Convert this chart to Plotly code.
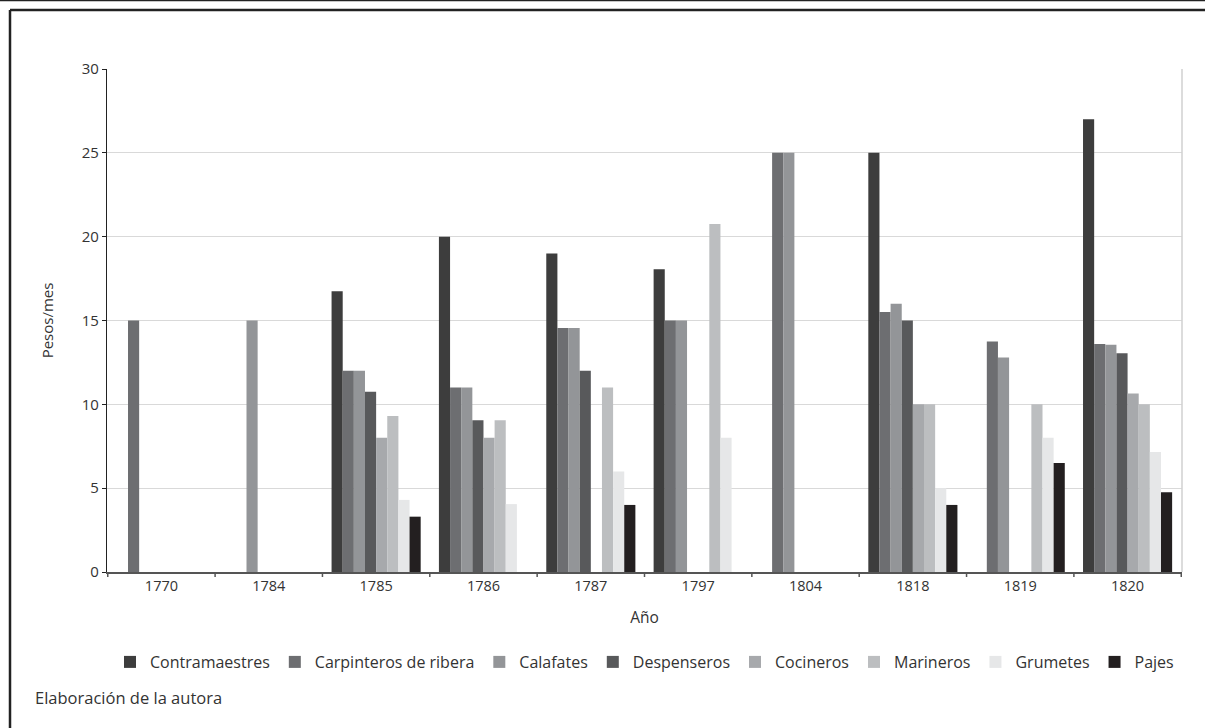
import plotly.graph_objects as go

years = ["1770", "1784", "1785", "1786", "1787", "1797", "1804", "1818", "1819", "1820"]

contramaestres = [None, None, 16.75, 20, 19, 18.05, None, 25, None, 27]
carpinteros = [15, None, 12, 11, 14.55, 15, 25, 15.5, 13.75, 13.6]
calafates = [None, 15, 12, 11, 14.55, 15, 25, 16, 12.8, 13.55]
despenseros = [None, None, 10.75, 9.05, 12, None, None, 15, None, 13.05]
cocineros = [None, None, 8, 8, None, None, None, 10, None, 10.65]
marineros = [None, None, 9.3, 9.05, 11, 20.75, None, 10, 10, 10]
grumetes = [None, None, 4.3, 4.05, 6, 8, None, 5, 8, 7.15]
pajes = [None, None, 3.3, None, 4, None, None, 4, 6.5, 4.75]

series_names = ["Contramaestres", "Carpinteros de ribera", "Calafates", "Despenseros",
                "Cocineros", "Marineros", "Grumetes", "Pajes"]
series_values = [contramaestres, carpinteros, calafates, despenseros,
                 cocineros, marineros, grumetes, pajes]
colors = ["#3d3d3d", "#6d6e71", "#939598", "#58595b",
          "#a7a9ac", "#bcbec0", "#e6e7e8", "#231f20"]

fig = go.Figure()
for name, vals, col in zip(series_names, series_values, colors):
    fig.add_trace(go.Bar(name=name, x=years, y=vals, marker=dict(color=col, line=dict(width=0))))

FONT = "Open Sans"
W, H = 1205, 728
L, R, T, B = 107, 23, 69, 156
pw, ph = W - L - R, H - T - B

def px_x(x):
    return (x - L) / pw

def px_y(y):
    return (H - B - y) / ph

fig.update_layout(
    width=W, height=H,
    barmode="group", bargap=0.17, bargroupgap=0,
    plot_bgcolor="white", paper_bgcolor="white",
    margin=dict(l=L, r=R, t=T, b=B, pad=0),
    font=dict(family=FONT, size=13, color="#333333"),
    xaxis=dict(
        type="category", showgrid=False, showline=True, linecolor="#555555", linewidth=1.5,
        ticks="outside", tickson="boundaries", ticklen=8, tickcolor="rgba(0,0,0,0)", tickwidth=1.5,
        tickfont=dict(size=14.5, color="#333333"),
        title=dict(text="Año", font=dict(size=15.5, color="#333333"), standoff=18),
    ),
    yaxis=dict(
        range=[0, 30], dtick=5, showgrid=True, gridcolor="#d9d9d9", gridwidth=1,
        showline=True, linecolor="#222222", linewidth=1.2,
        ticks="outside", ticklen=4, tickcolor="#222222",
        tickfont=dict(size=15, color="#333333"), zeroline=False,
        title=dict(text="Pesos/mes", font=dict(size=15, color="#333333"), standoff=24),
    ),
    legend=dict(
        orientation="h", x=0.5, xanchor="center", y=px_y(662), yanchor="middle",
        font=dict(size=16, color="#333333"), itemwidth=30, tracegroupgap=0,
        bgcolor="rgba(0,0,0,0)",
    ),
    showlegend=True,
)

# x-axis boundary ticks (5px) drawn at category boundaries
for i in range(len(years) + 1):
    fig.add_shape(type="line", xref="x", yref="paper", x0=i - 0.5, x1=i - 0.5,
                  y0=0, y1=px_y(577), line=dict(color="#555555", width=1.5))

# right border of plot area (light gray)
fig.add_shape(type="line", xref="paper", yref="paper", x0=1, x1=1, y0=0, y1=1,
              line=dict(color="#d0d0d0", width=1.5))
# outer frame
fig.add_shape(type="line", xref="paper", yref="paper", x0=px_x(10), x1=px_x(1230),
              y0=px_y(10), y1=px_y(10), line=dict(color="#222222", width=2.5))
fig.add_shape(type="line", xref="paper", yref="paper", x0=px_x(10), x1=px_x(10),
              y0=px_y(10), y1=px_y(760), line=dict(color="#222222", width=2.5))
fig.add_shape(type="line", xref="paper", yref="paper", x0=px_x(-10), x1=px_x(1230),
              y0=px_y(0.5), y1=px_y(0.5), line=dict(color="#222222", width=1.5))

fig.add_annotation(text="Elaboración de la autora", xref="paper", yref="paper",
                   x=px_x(33), y=px_y(697), xanchor="left", yanchor="middle",
                   showarrow=False, font=dict(size=16.5, color="#333333"))

fig.write_html("out.html", config={"displayModeBar": False},
               post_script="document.body.style.margin='0';document.body.style.overflow='hidden';")
